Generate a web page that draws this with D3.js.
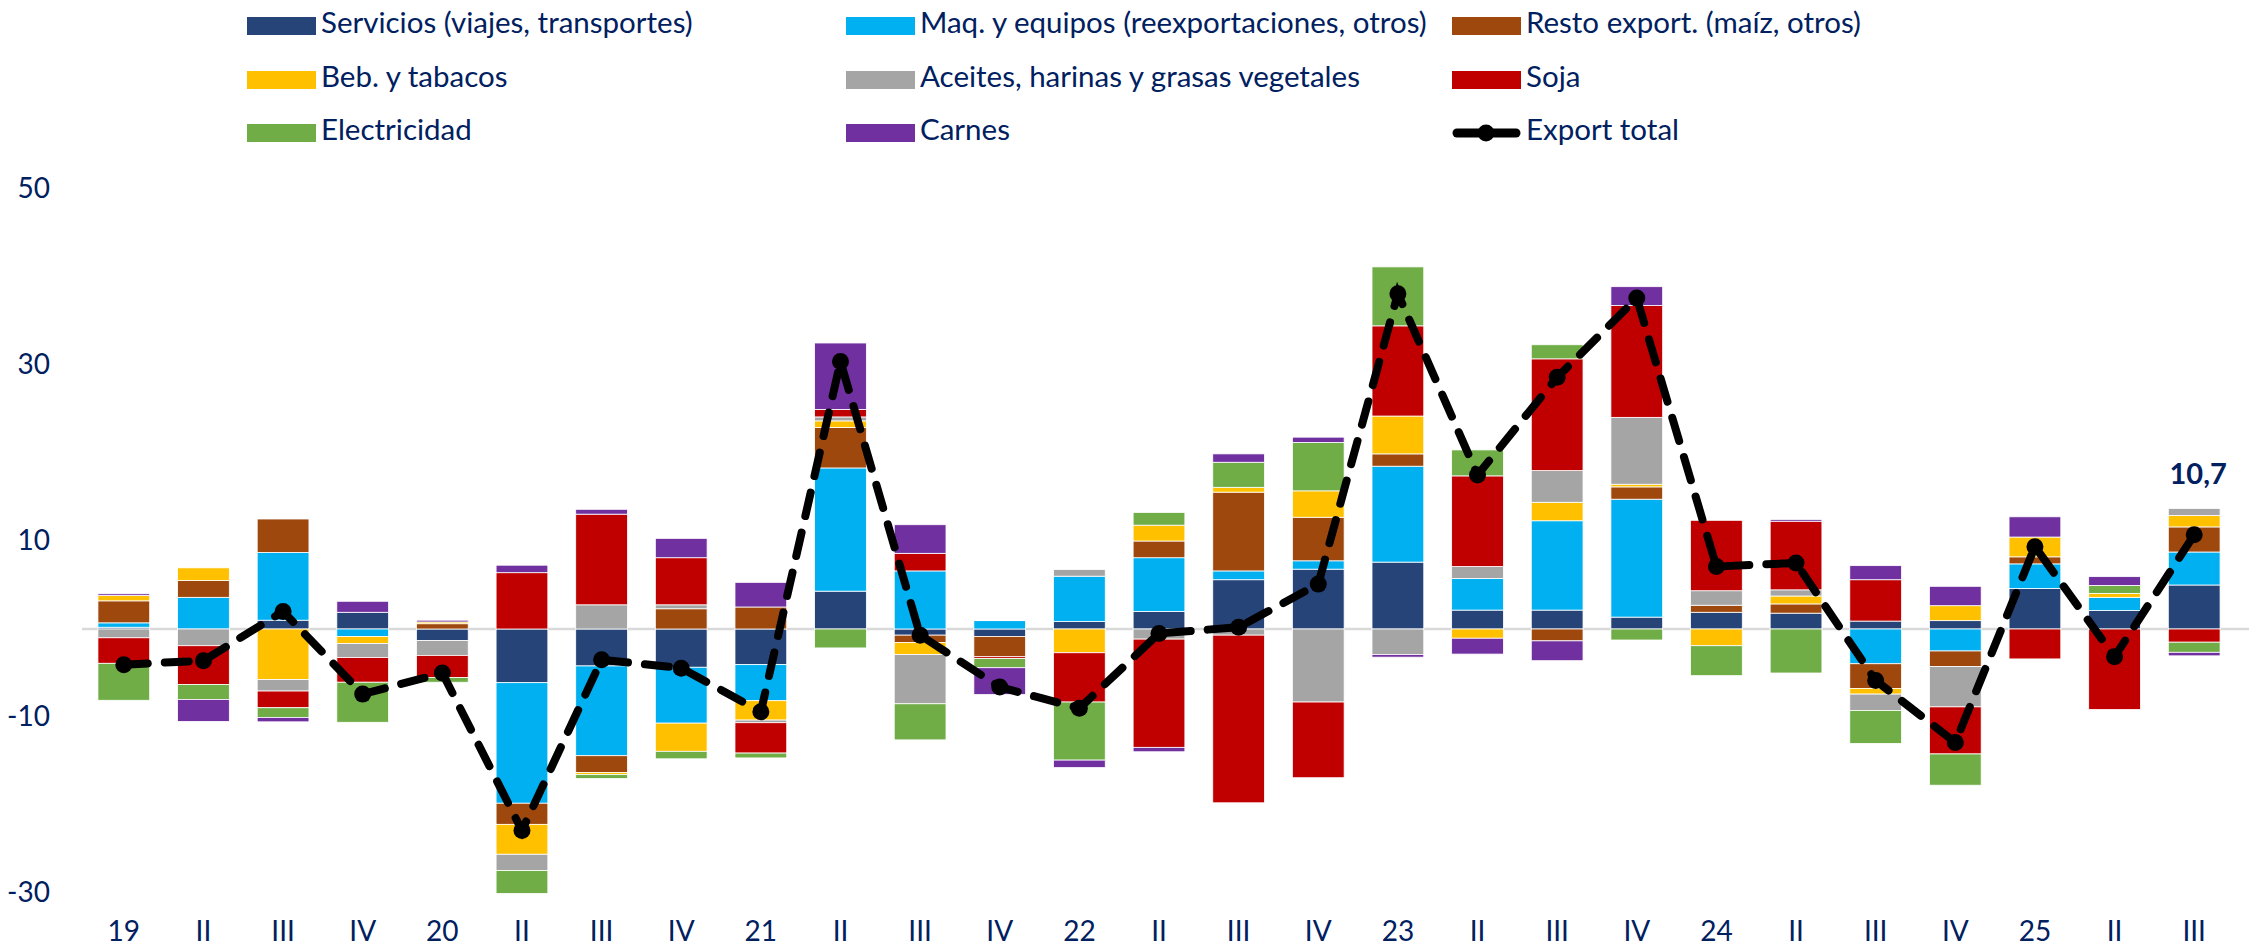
<!DOCTYPE html>
<html lang="es">
<head>
<meta charset="UTF-8">
<title>Contribuciones a las exportaciones</title>
<script src="https://cdn.jsdelivr.net/npm/d3@7"></script>
<style>
	body { margin: 0; background: #fff; }
	text { font-family: Lato, "Open Sans", sans-serif; fill: #002060; }
</style>
</head>
<body>
<svg id="chart" width="2249" height="951"></svg>
<script>
// trimestres
let categories = ["19","II","III","IV","20","II","III","IV","21","II","III","IV","22","II","III","IV","23","II","III","IV","24","II","III","IV","25","II","III"];

let servicios = [0.2, 0, 1.0, 1.9, -1.3, -6.1, -4.2, -4.35, -4.05, 4.3, -0.7, -0.85, 0.85, 2.0, 5.6, 6.8, 7.6, 2.15, 2.15, 1.35, 1.9, 1.8, 0.9, 0.95, 4.6, 2.1, 5.0];
let maquinas  = [0.5, 3.6, 7.7, -0.85, 0, -13.7, -10.2, -6.35, -4.1, 14.0, 6.6, 0.95, 5.15, 6.1, 1.0, 0.95, 10.9, 3.6, 10.15, 13.4, 0, 0, -3.95, -2.5, 2.8, 1.5, 3.75];
let resto     = [2.5, 1.9, 3.8, 0, 0.6, -2.4, -1.9, 2.3, 2.5, 4.6, -0.85, -2.3, 0, 1.9, 8.95, 4.95, 1.4, 0, -1.35, 1.4, 0.8, 1.05, -2.8, -1.75, 0.8, 0, 2.85];
let bebidas   = [0.6, 1.45, -5.75, -0.8, 0.2, -3.4, -0.25, -3.2, -2.2, 0.75, -1.35, 0.05, -2.7, 1.8, 0.55, 3.0, 4.3, -1.05, 2.1, 0.3, -1.9, 0.9, -0.65, 1.7, 2.25, 0.45, 1.3];
let aceites   = [-1.0, -1.9, -1.3, -1.6, -1.7, -1.85, 2.75, 0.45, -0.3, 0.45, -5.6, 0, 0.75, -1.15, -0.7, -8.3, -2.9, 1.35, 3.6, 7.6, 1.65, 0.7, -1.85, -4.6, 0, 0, 0.8];
let soja      = [-2.9, -4.4, -1.9, -2.8, -2.5, 6.4, 10.3, 5.35, -3.45, 0.85, 2.0, -0.2, -5.6, -12.3, -19.05, -8.6, 10.25, 10.3, 12.7, 12.7, 8.0, 7.8, 4.7, -5.35, -3.4, -9.15, -1.5];
let electric  = [-4.2, -1.7, -1.1, -4.55, -0.55, -2.6, -0.45, -0.85, -0.55, -2.15, -4.1, -1.05, -6.6, 1.45, 2.85, 5.5, 6.7, 2.95, 1.6, -1.25, -3.4, -5.0, -3.75, -3.55, 0, 0.9, -1.15];
let carnes    = [0.2, -2.5, -0.5, 1.25, 0.2, 0.85, 0.55, 2.2, 2.8, 7.55, 3.25, -3.05, -0.85, -0.5, 0.95, 0.6, -0.3, -1.8, -2.25, 2.15, 0, 0.2, 1.6, 2.2, 2.3, 1.0, -0.4];

let exportTotal = [-4.05, -3.6, 2.0, -7.4, -5.0, -22.9, -3.5, -4.45, -9.4, 30.4, -0.7, -6.6, -9.0, -0.5, 0.2, 5.1, 38.1, 17.5, 28.6, 37.6, 7.1, 7.5, -5.85, -12.9, 9.35, -3.15, 10.7];

let yTicks = [50, 30, 10, -10, -30];

let seriesNames = ["Servicios (viajes, transportes)", "Maq. y equipos (reexportaciones, otros)", "Resto export. (maíz, otros)",
	"Beb. y tabacos", "Aceites, harinas y grasas vegetales", "Soja", "Electricidad", "Carnes"];
let seriesValues = [servicios, maquinas, resto, bebidas, aceites, soja, electric, carnes];
let seriesColors = ["#264478", "#00B0F0", "#9E480E", "#FFC000", "#A5A5A5", "#C00000", "#70AD47", "#7030A0"];

let svg = d3.select("#chart");

// tabla para d3.stack
let rows = categories.map((c, i) => {
	let r = {i: i};
	seriesNames.forEach((n, k) => { r[n] = seriesValues[k][i]; });
	return r;
});

let x = d3.scaleBand()
	.domain(categories.map((c, i) => i))
	.range([84, 2234])
	.paddingInner(0.35)
	.paddingOuter(0.175);

let y = d3.scaleLinear()
	.domain([-30, 50])
	.range([893, 189]);

let stack = d3.stack()
	.keys(seriesNames)
	.order(d3.stackOrderNone)
	.offset(d3.stackOffsetDiverging);

let layers = stack(rows);

// linea del cero
svg.append("line")
	.attr("x1", 82).attr("x2", 2249)
	.attr("y1", y(0)).attr("y2", y(0))
	.attr("stroke", "#D9D9D9")
	.attr("stroke-width", 2.5);

svg.append("g").selectAll("g")
	.data(layers)
	.enter()
	.append("g")
	.attr("fill", (d, k) => seriesColors[k])
	.selectAll("rect")
	.data(d => d)
	.enter()
	.append("rect")
	.attr("x", d => x(d.data.i))
	.attr("width", x.bandwidth())
	.attr("y", d => y(Math.max(d[0], d[1])))
	.attr("height", d => Math.abs(y(d[0]) - y(d[1])))
	.attr("stroke", "#fff")
	.attr("stroke-width", 0.8);

// ejes como texto
let yAxis = d3.axisLeft(y).tickValues(yTicks).tickFormat(d => String(d)).tickSize(0).tickPadding(0);
let gy = svg.append("g").attr("transform", "translate(50,0)").call(yAxis);
gy.select(".domain").remove();
gy.selectAll("text")
	.style("font-size", "28px")
	.style("font-family", "Lato, sans-serif")
	.attr("fill", "#002060");

let xAxis = d3.axisBottom(x).tickFormat(i => categories[i]).tickSize(0).tickPadding(0);
let gx = svg.append("g").attr("transform", "translate(0,921)").call(xAxis);
gx.select(".domain").remove();
gx.selectAll("text")
	.style("font-size", "28px")
	.style("font-family", "Lato, sans-serif")
	.attr("fill", "#002060");

// export total
let cx = i => x(i) + x.bandwidth() / 2;
let line = d3.line()
	.x((d, i) => cx(i))
	.y(d => y(d));

svg.append("path")
	.datum(exportTotal)
	.attr("d", line)
	.attr("fill", "none")
	.attr("stroke", "#000")
	.attr("stroke-width", 8)
	.attr("stroke-linecap", "round")
	.attr("stroke-dasharray", "24,17");

svg.append("g").selectAll("circle")
	.data(exportTotal)
	.enter()
	.append("circle")
	.attr("cx", (d, i) => cx(i))
	.attr("cy", d => y(d))
	.attr("r", 8.5)
	.attr("fill", "#000");

let last = exportTotal.length - 1;
svg.append("text")
	.attr("x", cx(last) + 4)
	.attr("y", y(exportTotal[last]) - 58)
	.attr("text-anchor", "middle")
	.attr("dominant-baseline", "middle")
	.style("font-size", "29px")
	.style("font-weight", "bold")
	.text(d3.format(".1f")(exportTotal[last]).replace(".", ","));

// leyenda
let legendCols = [247, 846, 1452];
let legendRows = [26, 80, 133];
let legendItems = seriesNames.map((n, k) => ({name: n, color: seriesColors[k], type: "bar"}));
legendItems.push({name: "Export total", color: "#000", type: "line"});

let lg = svg.append("g").selectAll("g")
	.data(legendItems)
	.enter()
	.append("g")
	.attr("transform", (d, k) => "translate(" + legendCols[k % 3] + "," + legendRows[Math.floor(k / 3)] + ")");

lg.filter(d => d.type == "bar")
	.append("rect")
	.attr("x", 0).attr("y", -9)
	.attr("width", 69).attr("height", 18)
	.attr("fill", d => d.color);

let ll = lg.filter(d => d.type == "line");
ll.append("line")
	.attr("x1", 5).attr("x2", 64)
	.attr("stroke", "#000").attr("stroke-width", 9)
	.attr("stroke-linecap", "round");
ll.append("circle")
	.attr("cx", 34).attr("r", 8.5).attr("fill", "#000");

lg.append("text")
	.attr("x", 74)
	.attr("dominant-baseline", "middle")
	.style("font-size", "29.5px")
	.text(d => d.name);
</script>
</body>
</html>
